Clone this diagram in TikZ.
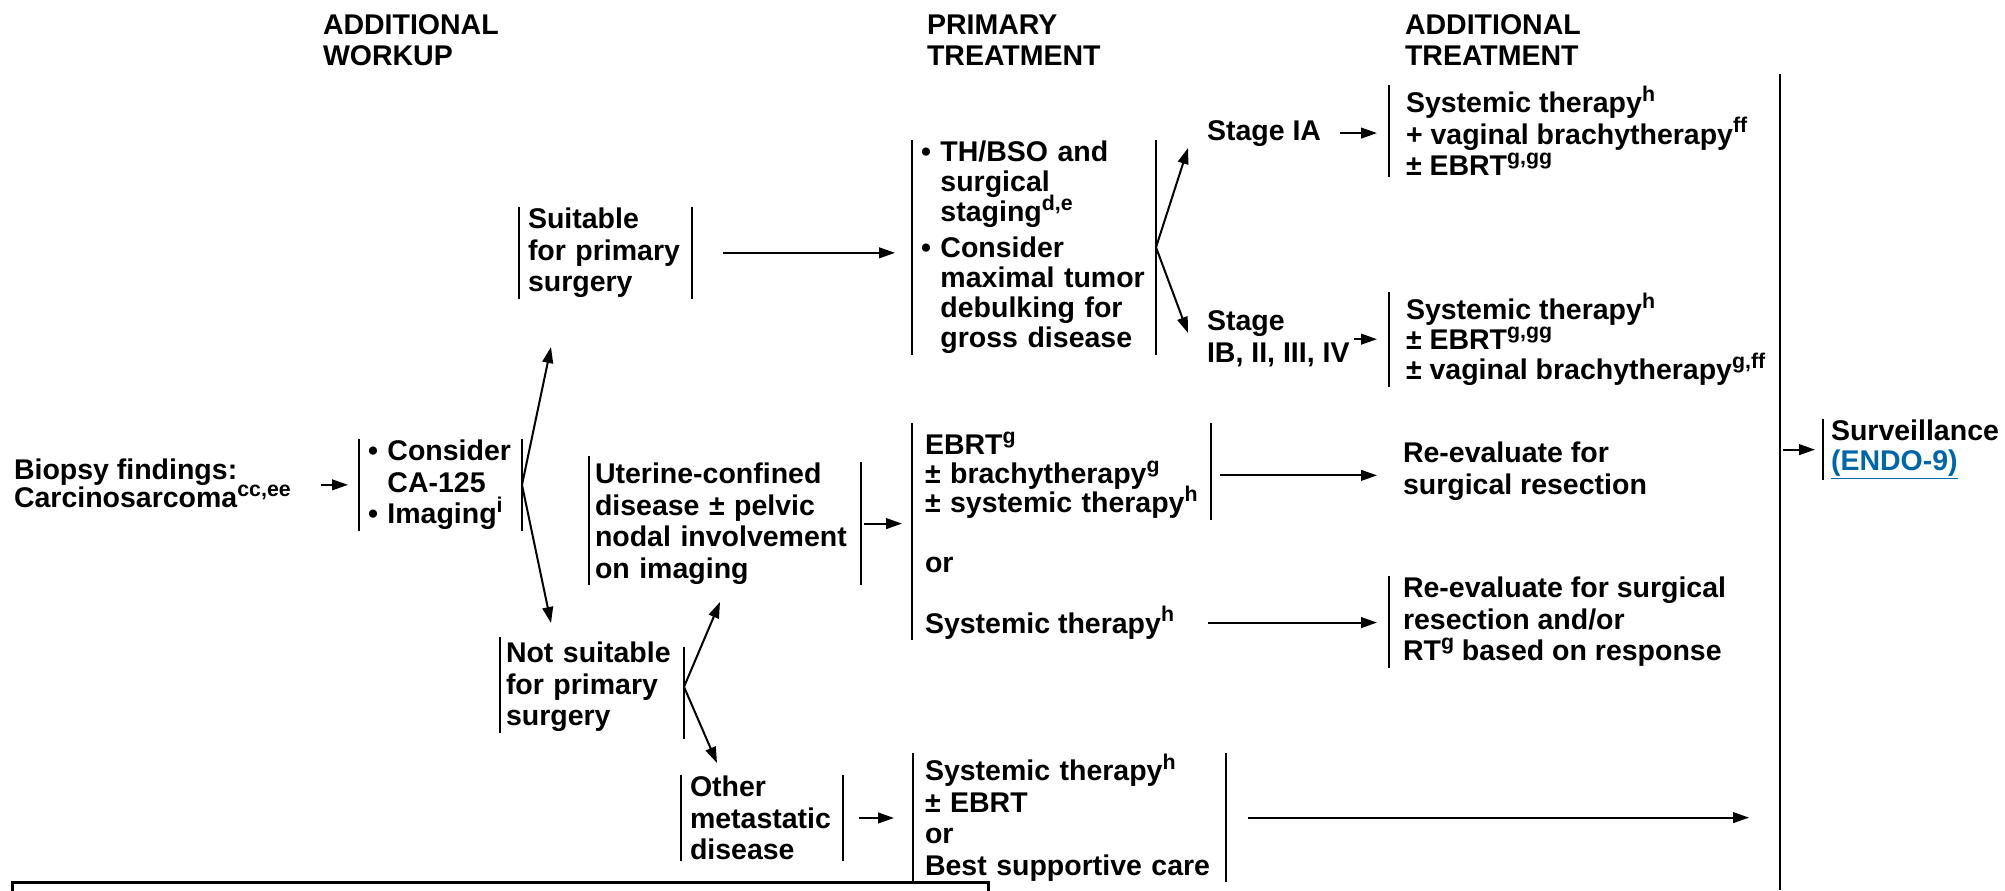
\documentclass[tikz,border=0pt]{standalone}
\usepackage{fontspec}
\setmainfont{Liberation Sans}
\usetikzlibrary{arrows.meta}

\definecolor{linkblue}{RGB}{0,102,170}
\newcommand{\setfont}[1]{\bfseries\fontsize{21.375}{#1}\selectfont\lineskiplimit-50pt\hyphenpenalty10000\exhyphenpenalty10000\relax}
\newcommand{\fn}[1]{\raisebox{8.5pt}{\fontsize{16}{16}\selectfont #1}}
\newcommand{\pad}{\hphantom{\textbullet\ }}

\tikzset{every picture/.style={line width=1.5pt}}
\tikzset{
  txt/.style={inner sep=0pt, align=left, font=\setfont{23.625pt}},
  grp/.style={txt, anchor=north west, inner xsep=#1},
  tightgrp/.style={grp=#1, font=\setfont{22.5pt}},
  arr/.style={-{Triangle[length=12pt,width=8pt]}},
  bar/.style={line width=1.5pt},
  frame/.style={line width=2.25pt},
}

\begin{document}
\begin{tikzpicture}[x=0.75pt,y=0.75pt,yscale=-1,xscale=1]
\useasboundingbox (0,0) rectangle (2005,890);

% Text Node
\node [txt, anchor=north west, font=\setfont{23pt}] (hWorkup) at (322,14) {ADDITIONAL\\WORKUP};
% Text Node
\node [txt, anchor=north west, font=\setfont{23pt}] (hPrimary) at (926,14) {PRIMARY\\TREATMENT};
% Text Node
\node [txt, anchor=north west, font=\setfont{23pt}] (hAddl) at (1404,14) {ADDITIONAL\\TREATMENT};

% Text Node
\node [txt, anchor=north west, font=\setfont{21pt}] (biopsy) at (13,458) {Biopsy findings:\\Carcinosarcoma\fn{cc,ee}};
% Text Node
\node [grp=6pt, text width=108.75pt] (consider) at (359,439) {\textbullet~Consider\\\pad CA-125\\\textbullet~Imaging\fn{i}};
% Text Node
\node [grp=6pt, text width=116.25pt] (suitable) at (519,207) {Suitable\\for~primary\\surgery};
% Text Node
\node [grp=3.75pt, text width=129pt] (notsuit) at (500,641) {Not~suitable\\for~primary\\surgery};
% Text Node
\node [grp=3.75pt, text width=195pt] (uterine) at (589,462) {Uterine-confined\\disease ± pelvic\\nodal~involvement\\on imaging};
% Text Node
\node [grp=6pt, text width=108pt] (other) at (681,775) {Other\\metastatic\\disease};

% Text Node
\node [tightgrp=6pt, text width=169.5pt] (surgery) at (912,140) {\textbullet~TH/BSO and\\\pad surgical\\\pad staging\fn{d,e}\\[4.5pt]\textbullet~Consider\\\pad maximal~tumor\\\pad debulking~for\\\pad gross~disease};
% Text Node
\node [tightgrp=9pt, text width=204.75pt, font=\setfont{21.75pt}] (ebrt) at (912,431) {EBRT\fn{g}\\±~brachytherapy\fn{g}\\±~systemic~therapy\fn{h}};
% Text Node
\node [txt, anchor=base west] (orA) at (924,572) {or};
% Text Node
\node [txt, anchor=base west] (sysA) at (924,633) {Systemic therapy\fn{h}};
% Text Node
\node [grp=8.25pt, text width=216.75pt] (bsc) at (913,753) {Systemic therapy\fn{h}\\±~EBRT\\or\\Best~supportive~care};

% Text Node
\node [txt, anchor=base west] (stageA) at (1206,140) {Stage IA};
% Text Node
\node [txt, anchor=north west, font=\setfont{24pt}] (stageB) at (1206,310) {Stage\\IB, II, III, IV};
% Text Node
\node [grp=12pt] (vagA) at (1389,85) {Systemic therapy\fn{h}\\+ vaginal brachytherapy\fn{ff}\\± EBRT\fn{g,gg}};
% Text Node
\node [grp=12pt, font=\setfont{22.5pt}] (vagB) at (1389,292) {Systemic therapy\fn{h}\\± EBRT\fn{g,gg}\\± vaginal brachytherapy\fn{g,ff}};
% Text Node
\node [txt, anchor=north west] (reeval) at (1402,441) {Re-evaluate for\\surgical resection};
% Text Node
\node [grp=9.75pt] (reevalRT) at (1389,576) {Re-evaluate for surgical\\resection and/or\\RT\fn{g} based on response};
% Text Node
\node [grp=5.25pt, font=\setfont{22.5pt}] (surv) at (1823,419) {Surveillance\\\textcolor{linkblue}{\underline{(ENDO-9)}}};

% Bars
\draw [bar] (consider.north west) -- (consider.south west) (consider.north east) -- (consider.south east);
\draw [bar] (suitable.north west) -- (suitable.south west) (suitable.north east) -- (suitable.south east);
\draw [bar] (notsuit.north west) ++(0,-4) -- (notsuit.south west) (notsuit.north east) ++(0,6) -- ([yshift=4.5pt]notsuit.south east);
\draw [bar] (uterine.north west) ++(0,-6) -- (uterine.south west) (uterine.north east) -- (uterine.south east);
\draw [bar] (other.north west) -- (other.south west) (other.north east) -- (other.south east);
\draw [bar] (surgery.north west) -- (surgery.south west) (surgery.north east) -- (surgery.south east);
\draw [bar] (ebrt.north west) ++(0,-8) -- (ebrt.north west |- sysA.south) (ebrt.north east) ++(0,-8) -- (ebrt.south east);
\draw [bar] (bsc.north west) -- (bsc.south west) (bsc.north east) -- (bsc.south east);
\draw [bar] (vagA.north west) -- (vagA.south west);
\draw [bar] (vagB.north west) -- (vagB.south west);
\draw [bar] (reevalRT.north west) -- (reevalRT.south west);
\draw [bar] (surv.north west) -- (surv.south west);

% Vertical line
\coordinate (vtop) at (1780,74);
\coordinate (vbot) at (1780,890);
\draw [line width=1.9pt] (vtop) -- (vbot);

% Footnote frame
\draw [frame] (12,882) rectangle (988,905);

% Arrow ends
\coordinate (suitIn) at (551,347);
\coordinate (notIn) at (551,623);
\coordinate (uterIn) at (720,602);
\coordinate (otherIn) at (717,763);
\coordinate (stageAIn) at (1188,148);
\coordinate (stageBIn) at (1188,333);

% Connection
\draw [arr, shorten <=21.75pt, shorten >=8.25pt] (consider.west -| biopsy.east) -- (consider.west);
% Connection
\draw [arr] (consider.east) -- (suitIn);
\draw [arr] (consider.east) -- (notIn);
% Connection
\draw [arr, shorten <=23.25pt, shorten >=12.75pt] (suitable.east) -- (suitable.east -| surgery.west);
% Connection
\draw [arr] (notsuit.east) -- (uterIn);
\draw [arr] (notsuit.east) -- (otherIn);
% Connection
\draw [arr, shorten <=2.25pt, shorten >=7.5pt] (uterine.east) -- (uterine.east -| ebrt.west);
% Connection
\draw [arr, shorten <=12pt, shorten >=14.25pt] (other.east) -- (other.east -| bsc.west);
% Connection
\draw [arr] (surgery.east) -- (stageAIn);
\draw [arr] (surgery.east) -- (stageBIn);
% Connection
\draw [arr, shorten <=13.5pt, shorten >=9pt] (stageA.east) -- (stageA.east -| vagA.west);
% Connection
\draw [arr, shorten <=2.25pt, shorten >=9pt] (stageB.east) -- (stageB.east -| vagB.west);
% Connection
\draw [arr, shorten <=6.75pt, shorten >=18.75pt] (ebrt.east) -- (ebrt.east -| reeval.west);
% Connection
\draw [arr, shorten <=24.75pt, shorten >=9pt] (sysA.east) -- (sysA.east -| reevalRT.west);
% Connection
\draw [arr, shorten <=16.5pt, shorten >=23.25pt] (bsc.east) -- (bsc.east -| vbot);
% Connection
\draw [arr, shorten <=2.25pt, shorten >=6pt] (surv.west -| vtop) -- (surv.west);

\end{tikzpicture}
\end{document}
